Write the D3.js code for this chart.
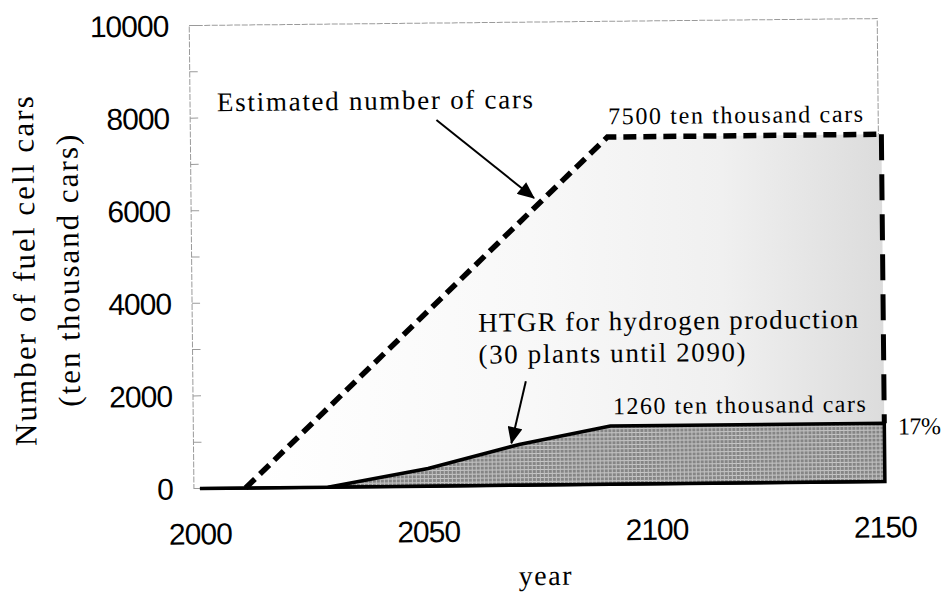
<!DOCTYPE html>
<html>
<head>
<meta charset="utf-8">
<script src="https://cdn.jsdelivr.net/npm/d3@7"></script>
<style>
  html, body { margin: 0; padding: 0; background: #fff; }
  svg { display: block; }
</style>
</head>
<body>
<svg id="chart" width="943" height="592"></svg>
<script>
// ---------- data ----------
const estYears  = [2000, 2010, 2090, 2150];
const estValues = [0, 0, 7500, 7500];
const htgrYears  = [2000, 2028, 2050, 2070, 2090, 2150];
const htgrValues = [0, 0, 380, 880, 1260, 1260];
const xTicks = [2000, 2050, 2100, 2150];
const yTicks = [0, 2000, 4000, 6000, 8000, 10000];
const yMinorTicks = [0, 1000, 2000, 3000, 4000, 5000, 6000, 7000, 8000, 9000, 10000];
const yTitleLines = ["Number of  fuel cell cars", "(ten thousand cars)"];
const xTitle = "year";
const labelTexts = ["Estimated number of cars", "7500 ten thousand cars",
  "HTGR for hydrogen production", "(30 plants until 2090)",
  "1260 ten thousand cars", "17%"];
const labelYears  = [2004.6, 2090.2, 2061.3, 2061.3, 2090.6, 2153];
const labelValues = [8143, 7775, 3326, 2635, 1512, 1015];
const arrowFromYears = [2052.6, 2071.6];
const arrowFromValues = [7905, 2246];
const arrowToYears = [2073.8, 2068.3];
const arrowToValues = [6199, 907];

// ---------- scales ----------
const svgRoot = d3.select("#chart");
// the scanned original is slightly tilted
const svg = svgRoot.append("g").attr("transform", "rotate(-0.58 540 296)");
const x = d3.scaleLinear().domain([2000, 2150]).range([198, 883]);
const y = d3.scaleLinear().domain([0, 10000]).range([485, 22]);

const defs = svgRoot.append("defs");
const grad = defs.append("linearGradient")
  .attr("id", "lightGrad").attr("gradientUnits", "userSpaceOnUse")
  .attr("x1", x(2010)).attr("x2", x(2150)).attr("y1", 0).attr("y2", 0);
[[0, "#ffffff"], [0.45, "#f8f8f8"], [0.75, "#f0f0f0"], [1, "#dcdcdc"]].forEach(s =>
  grad.append("stop").attr("offset", s[0]).attr("stop-color", s[1]));

const pat = defs.append("pattern").attr("id", "gridPat")
  .attr("patternUnits", "userSpaceOnUse").attr("width", 4).attr("height", 4);
pat.append("rect").attr("width", 4).attr("height", 4).attr("fill", "#858585");
pat.append("rect").attr("x", 0).attr("y", 1).attr("width", 4).attr("height", 1).attr("fill", "#c8c8c8");
pat.append("rect").attr("x", 2).attr("y", 0).attr("width", 1).attr("height", 4).attr("fill", "#c0c0c0");

defs.append("marker").attr("id", "arrowHead")
  .attr("markerUnits", "userSpaceOnUse")
  .attr("viewBox", "0 0 16 14").attr("refX", 15).attr("refY", 7)
  .attr("markerWidth", 18).attr("markerHeight", 15).attr("orient", "auto")
  .append("path").attr("d", "M0,0 L16,7 L0,14 Z").attr("fill", "#000");

// ---------- frame ----------
const frameLeft = 192, frameRight = 880;
svg.append("rect")
  .attr("x", frameLeft).attr("y", y(10000))
  .attr("width", frameRight - frameLeft).attr("height", y(0) - y(10000))
  .attr("fill", "none").attr("stroke", "#9a9a9a").attr("stroke-width", 1)
  .attr("stroke-dasharray", "6,1.5");

svg.selectAll(".ymin").data(yMinorTicks).enter().append("line")
  .attr("x1", frameLeft).attr("x2", frameLeft + 8)
  .attr("y1", d => y(d)).attr("y2", d => y(d))
  .attr("stroke", "#9a9a9a").attr("stroke-width", 1);

// ---------- areas ----------
const estData = estYears.map((yr, i) => [yr, estValues[i]]);
const htgrData = htgrYears.map((yr, i) => [yr, htgrValues[i]]);

svg.append("path").datum(estData)
  .attr("d", d3.area().x(d => x(d[0])).y0(y(0)).y1(d => y(d[1])))
  .attr("fill", "url(#lightGrad)");

svg.append("path").datum(htgrData)
  .attr("d", d3.area().x(d => x(d[0])).y0(y(0)).y1(d => y(d[1])))
  .attr("fill", "url(#gridPat)")
  .attr("stroke", "#000").attr("stroke-width", 3.5).attr("stroke-linejoin", "miter");

// baseline
svg.append("line")
  .attr("x1", x(2000)).attr("x2", x(2150)).attr("y1", y(0)).attr("y2", y(0))
  .attr("stroke", "#000").attr("stroke-width", 3);

// estimated dashed line
svg.append("path").datum(estData.slice(1))
  .attr("d", d3.line().x(d => x(d[0])).y(d => y(d[1])))
  .attr("fill", "none").attr("stroke", "#000").attr("stroke-width", 5.5)
  .attr("stroke-dasharray", "13,7");

// right vertical dashed line
const lastYear = estYears[estYears.length - 1];
svg.append("path").datum([[lastYear, estValues[estValues.length - 1]], [lastYear, htgrValues[htgrValues.length - 1]]])
  .attr("d", d3.line().x(d => x(d[0])).y(d => y(d[1])))
  .attr("fill", "none").attr("stroke", "#000").attr("stroke-width", 5)
  .attr("stroke-dasharray", "26,14");

// ---------- axes labels ----------
svg.selectAll(".ylab").data(yTicks).enter().append("text")
  .attr("x", 171).attr("y", d => y(d)).attr("dy", "0.36em")
  .attr("text-anchor", "end")
  .attr("font-family", "'Liberation Sans', Arial, sans-serif")
  .attr("font-size", 30).attr("letter-spacing", -1)
  .attr("fill", "#000").text(d => d);

svg.selectAll(".xlab").data(xTicks).enter().append("text")
  .attr("x", d => x(d)).attr("y", 541)
  .attr("text-anchor", "middle")
  .attr("font-family", "'Liberation Sans', Arial, sans-serif")
  .attr("font-size", 30).attr("letter-spacing", -1)
  .attr("fill", "#000").text(d => d);

svg.append("text")
  .attr("x", 543).attr("y", 585).attr("text-anchor", "middle")
  .attr("font-family", "'Liberation Serif', 'Times New Roman', serif")
  .attr("font-size", 28).attr("letter-spacing", 1.5)
  .text(xTitle);

const yTitleX = [24, 68];
const yTitleLen = [350, 272];
yTitleLines.forEach((t, i) => {
  svg.append("text")
    .attr("transform", `translate(${yTitleX[i] + 11},266) rotate(-90)`)
    .attr("text-anchor", "middle")
    .attr("font-family", "'Liberation Serif', 'Times New Roman', serif")
    .attr("font-size", 31)
    .attr("textLength", yTitleLen[i]).attr("lengthAdjust", "spacing")
    .text(t);
});

// ---------- annotations ----------
const labelSizes = [27, 24, 27, 27, 24, 24];
const labelLens = [316, 255, 380, 267, 253, 43];
labelTexts.forEach((t, i) => {
  svg.append("text")
    .attr("x", x(labelYears[i])).attr("y", y(labelValues[i]))
    .attr("font-family", "'Liberation Serif', 'Times New Roman', serif")
    .attr("font-size", labelSizes[i])
    .attr("textLength", labelLens[i]).attr("lengthAdjust", "spacing")
    .text(t);
});

arrowFromYears.forEach((yr, i) => {
  svg.append("line")
    .attr("x1", x(yr)).attr("y1", y(arrowFromValues[i]))
    .attr("x2", x(arrowToYears[i])).attr("y2", y(arrowToValues[i]))
    .attr("stroke", "#000").attr("stroke-width", 2)
    .attr("marker-end", "url(#arrowHead)");
});
</script>
</body>
</html>
